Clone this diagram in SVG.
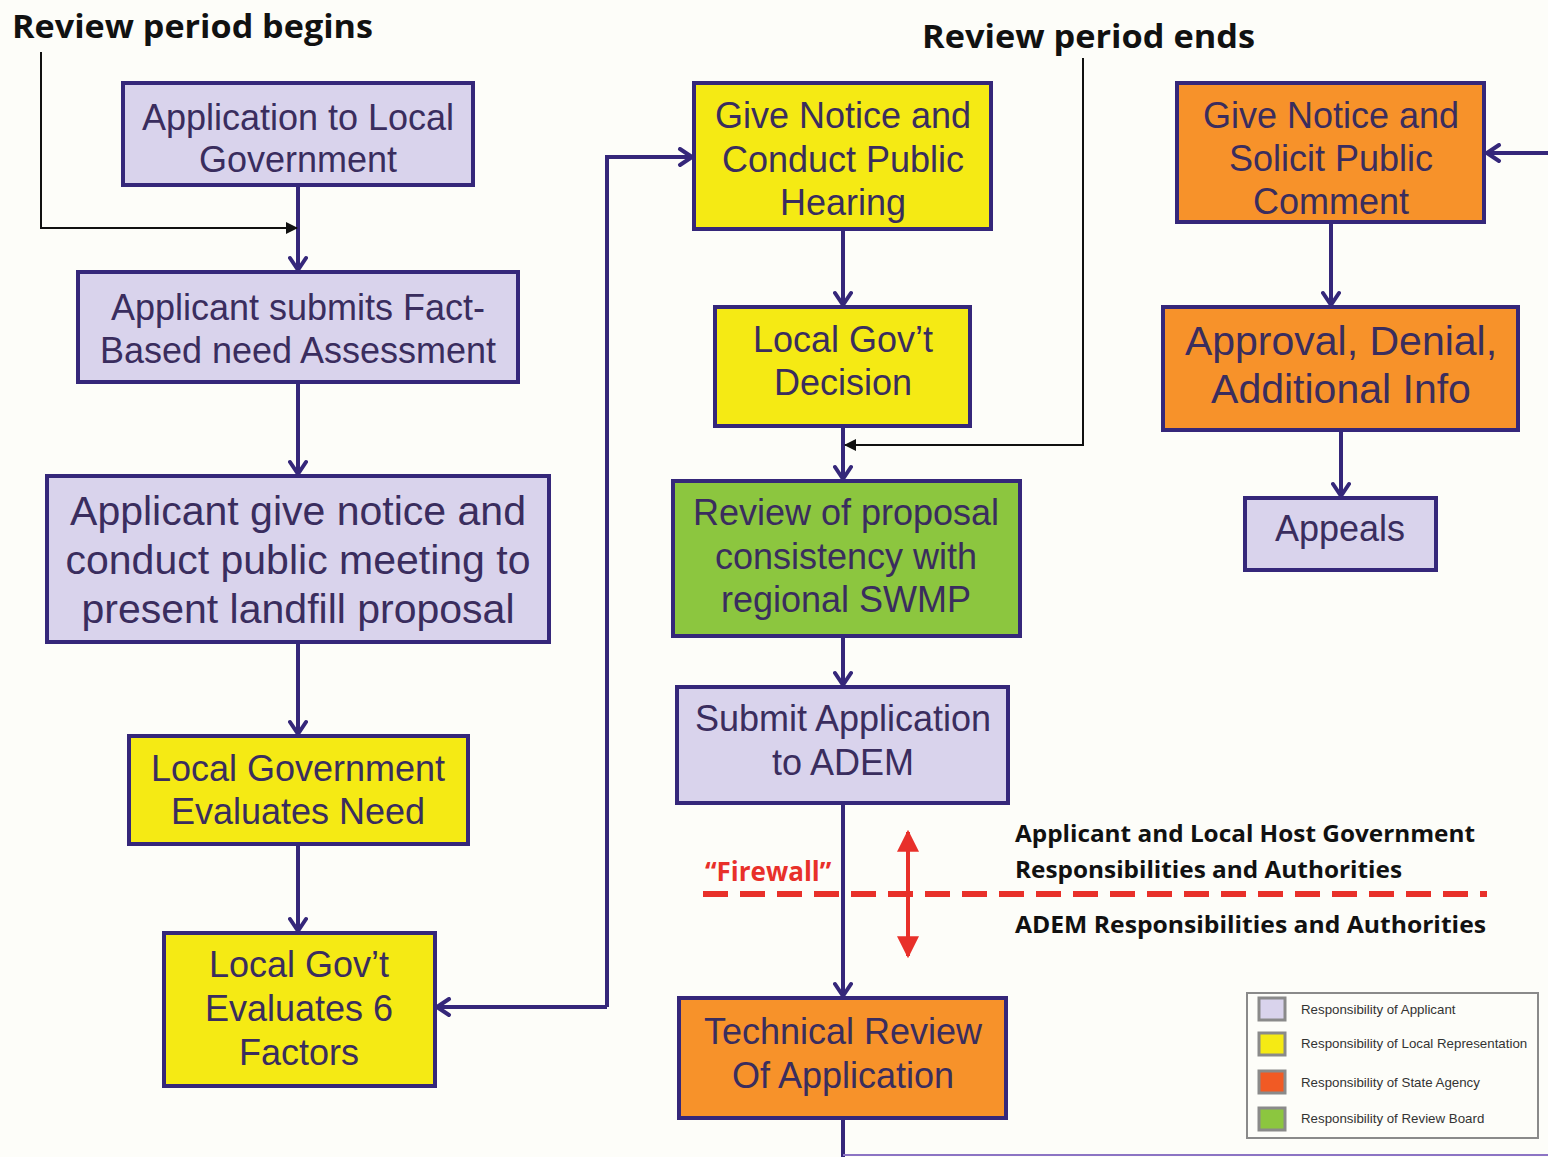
<svg xmlns="http://www.w3.org/2000/svg" width="1548" height="1157" viewBox="0 0 1548 1157">
<defs>
<style>
.box{stroke:#35277a;stroke-width:4}
.lav{fill:#d9d3ec}.yel{fill:#f5ea14}.org{fill:#f7922a}.grn{fill:#8cc63f}
.t{font-family:"Liberation Sans",Arial,sans-serif;font-size:36px;fill:#3a2d5e;text-anchor:middle}
.tl{font-size:41px}
.con{fill:none;stroke:#35277a;stroke-width:4}
.blk{fill:none;stroke:#111;stroke-width:2}
.hdr{font-family:"Open Sans","Liberation Sans",sans-serif;font-weight:bold;fill:#111}
.leg{font-family:"Liberation Sans",Arial,sans-serif;font-size:13.3px;fill:#333}
.sw{stroke:#8a8a8a;stroke-width:3}
</style>
<marker id="ah" viewBox="0 0 20 20" refX="17" refY="10" markerWidth="20" markerHeight="20" markerUnits="userSpaceOnUse" orient="auto">
<path d="M5,2 L17,10 L5,18" fill="none" stroke="#35277a" stroke-width="4" stroke-linecap="round" stroke-linejoin="round"/>
</marker>
<marker id="bh" viewBox="0 0 12 12" refX="11" refY="6" markerWidth="12" markerHeight="12" markerUnits="userSpaceOnUse" orient="auto">
<path d="M0,0 L12,6 L0,12 Z" fill="#111"/>
</marker>
<marker id="rh" viewBox="0 0 20 20" refX="18" refY="10" markerWidth="22" markerHeight="22" markerUnits="userSpaceOnUse" orient="auto">
<path d="M0,0 L20,10 L0,20 Z" fill="#e8302a"/>
</marker>
</defs>
<rect x="0" y="0" width="1548" height="1157" fill="#fdfdf9"/>

<g id="connectors">
<path class="con" d="M298,185 V270" marker-end="url(#ah)"/>
<path class="con" d="M298,382 V474" marker-end="url(#ah)"/>
<path class="con" d="M298,642 V734" marker-end="url(#ah)"/>
<path class="con" d="M298,844 V931" marker-end="url(#ah)"/>
<path class="con" d="M607,1007 H437" marker-end="url(#ah)"/>
<path class="con" d="M607,1007 V157 H692" marker-end="url(#ah)"/>
<path class="con" d="M843,229 V305" marker-end="url(#ah)"/>
<path class="con" d="M843,426 V479" marker-end="url(#ah)"/>
<path class="con" d="M843,636 V685" marker-end="url(#ah)"/>
<path class="con" d="M843,803 V996" marker-end="url(#ah)"/>
<path class="con" d="M843,1118 V1157"/>
<path d="M843,1155 H1548" fill="none" stroke="#8c74c4" stroke-width="2"/>
<path class="con" d="M1548,153 H1487" marker-end="url(#ah)"/>
<path class="con" d="M1331,222 V305" marker-end="url(#ah)"/>
<path class="con" d="M1341,430 V496" marker-end="url(#ah)"/>
<path class="blk" d="M41,52 V228 H297" marker-end="url(#bh)"/>
<path class="blk" d="M1083,58 V445 H845" marker-end="url(#bh)"/>
</g>

<g id="firewall">
<line x1="703" y1="894" x2="1487" y2="894" stroke="#e8302a" stroke-width="6" stroke-dasharray="25,12"/>
<path d="M908,894 V832" stroke="#e8302a" stroke-width="4" marker-end="url(#rh)"/>
<path d="M908,894 V956" stroke="#e8302a" stroke-width="4" marker-end="url(#rh)"/>
<text x="705" y="881" font-family="'Open Sans','Liberation Sans',sans-serif" font-weight="bold" font-size="26" fill="#e8302a">“Firewall”</text>
</g>

<g id="labels">
<text class="hdr" x="12" y="38" font-size="32" textLength="361" lengthAdjust="spacingAndGlyphs">Review period begins</text>
<text class="hdr" x="922" y="48" font-size="32" textLength="333" lengthAdjust="spacingAndGlyphs">Review period ends</text>
<text class="hdr" x="1015" y="842" font-size="24" textLength="460" lengthAdjust="spacingAndGlyphs">Applicant and Local Host Government</text>
<text class="hdr" x="1015" y="878" font-size="24" textLength="387" lengthAdjust="spacingAndGlyphs">Responsibilities and Authorities</text>
<text class="hdr" x="1015" y="933" font-size="24" textLength="471" lengthAdjust="spacingAndGlyphs">ADEM Responsibilities and Authorities</text>
</g>

<g id="n1"><rect class="box lav" x="123" y="83" width="350" height="102"/>
<text class="t" x="298" y="130">Application to Local</text><text class="t" x="298" y="172">Government</text></g>
<g id="n2"><rect class="box lav" x="78" y="272" width="440" height="110"/>
<text class="t" x="298" y="320">Applicant submits Fact-</text><text class="t" x="298" y="363">Based need Assessment</text></g>
<g id="n3"><rect class="box lav" x="47" y="476" width="502" height="166"/>
<text class="t tl" x="298" y="525">Applicant give notice and</text><text class="t tl" x="298" y="574">conduct public meeting to</text><text class="t tl" x="298" y="623">present landfill proposal</text></g>
<g id="n4"><rect class="box yel" x="129" y="736" width="339" height="108"/>
<text class="t" x="298" y="781">Local Government</text><text class="t" x="298" y="824">Evaluates Need</text></g>
<g id="n5"><rect class="box yel" x="164" y="933" width="271" height="153"/>
<text class="t" x="299" y="977">Local Gov’t</text><text class="t" x="299" y="1021">Evaluates 6</text><text class="t" x="299" y="1065">Factors</text></g>
<g id="n6"><rect class="box yel" x="694" y="83" width="297" height="146"/>
<text class="t" x="843" y="128">Give Notice and</text><text class="t" x="843" y="172">Conduct Public</text><text class="t" x="843" y="215">Hearing</text></g>
<g id="n7"><rect class="box yel" x="715" y="307" width="255" height="119"/>
<text class="t" x="843" y="352">Local Gov’t</text><text class="t" x="843" y="395">Decision</text></g>
<g id="n8"><rect class="box grn" x="673" y="481" width="347" height="155"/>
<text class="t" x="846" y="525">Review of proposal</text><text class="t" x="846" y="569">consistency with</text><text class="t" x="846" y="612">regional SWMP</text></g>
<g id="n9"><rect class="box lav" x="677" y="687" width="331" height="116"/>
<text class="t" x="843" y="731">Submit Application</text><text class="t" x="843" y="775">to ADEM</text></g>
<g id="n10"><rect class="box org" x="679" y="998" width="327" height="120"/>
<text class="t" x="843" y="1044">Technical Review</text><text class="t" x="843" y="1088">Of Application</text></g>
<g id="n11"><rect class="box org" x="1177" y="83" width="307" height="139"/>
<text class="t" x="1331" y="128">Give Notice and</text><text class="t" x="1331" y="171">Solicit Public</text><text class="t" x="1331" y="214">Comment</text></g>
<g id="n12"><rect class="box org" x="1163" y="307" width="355" height="123"/>
<text class="t tl" x="1341" y="355">Approval, Denial,</text><text class="t tl" x="1341" y="403">Additional Info</text></g>
<g id="n13"><rect class="box lav" x="1245" y="498" width="191" height="72"/>
<text class="t" x="1340" y="541">Appeals</text></g>

<g id="legend">
<rect x="1247" y="993" width="291" height="145" fill="#fdfdf9" stroke="#8a8a8a" stroke-width="2"/>
<rect class="sw" x="1259" y="998" width="26" height="22" fill="#d9d3ec"/>
<rect class="sw" x="1259" y="1033" width="26" height="22" fill="#f5ea14"/>
<rect class="sw" x="1259" y="1071" width="26" height="22" fill="#f15a24"/>
<rect class="sw" x="1259" y="1108" width="26" height="22" fill="#8cc63f"/>
<text class="leg" x="1301" y="1014">Responsibility of Applicant</text>
<text class="leg" x="1301" y="1048">Responsibility of Local Representation</text>
<text class="leg" x="1301" y="1087">Responsibility of State Agency</text>
<text class="leg" x="1301" y="1123">Responsibility of Review Board</text>
</g>
</svg>
